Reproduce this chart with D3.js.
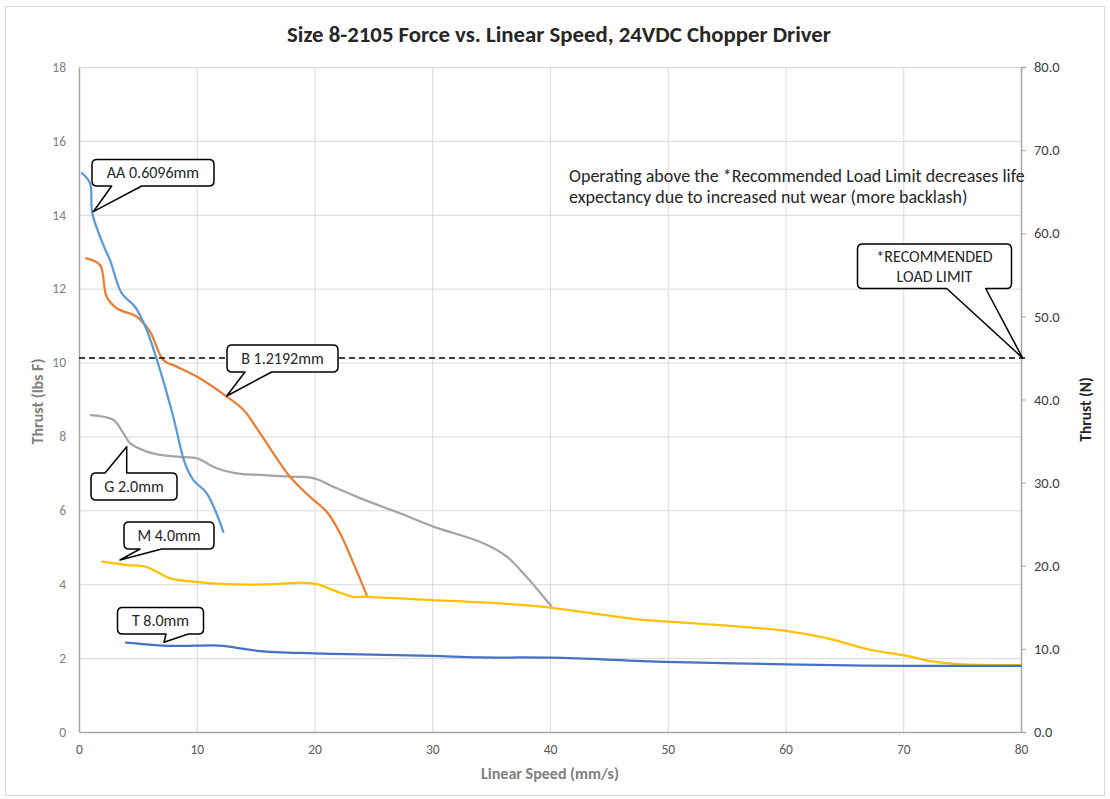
<!DOCTYPE html>
<html>
<head>
<meta charset="utf-8">
<script src="https://cdn.jsdelivr.net/npm/d3@7"></script>
<style>
  html, body { margin: 0; padding: 0; background: #fff; }
  svg { display: block; font-family: Carlito, Lato, "Open Sans", sans-serif; }
</style>
</head>
<body>
<svg id="chart" width="1110" height="799"></svg>
<script>
// ---------- DATA ----------
const xTicks = [0, 10, 20, 30, 40, 50, 60, 70, 80];
const yLeftTicks = [0, 2, 4, 6, 8, 10, 12, 14, 16, 18];
const yRightTicks = [0, 10, 20, 30, 40, 50, 60, 70, 80];

const aaSpeed = [0.25, 0.93, 1.13, 2.07, 2.63, 3.62, 4.76, 5.75, 6.88, 8.0, 9.0, 9.71, 10.85, 12.26];
const aaThrust = [15.13, 14.86, 14.04, 13.18, 12.78, 11.88, 11.51, 10.88, 9.8, 8.54, 7.27, 6.82, 6.46, 5.42];

const bSpeed = [0.6, 1.78, 2.35, 3.2, 4.9, 6.03, 7.16, 8.3, 10.0, 12.54, 13.96, 15.37, 17.92, 19.6, 21.04, 22.17, 23.3, 24.43];
const bThrust = [12.82, 12.64, 11.78, 11.47, 11.24, 10.84, 10.07, 9.89, 9.62, 9.08, 8.72, 8.09, 6.91, 6.37, 5.96, 5.38, 4.57, 3.71];

const gSpeed = [1.0, 2.91, 3.76, 4.33, 5.75, 6.88, 8.58, 10.0, 11.69, 13.39, 15.37, 17.92, 19.9, 21.6, 23.86, 27.26, 30.09, 34.34, 36.32, 38.0, 40.14];
const gThrust = [8.58, 8.45, 8.09, 7.82, 7.59, 7.5, 7.45, 7.41, 7.14, 7.0, 6.96, 6.91, 6.87, 6.64, 6.33, 5.92, 5.56, 5.11, 4.75, 4.2, 3.39];

const mSpeed = [1.98, 4.05, 5.6, 6.6, 7.73, 9.71, 12.54, 16.5, 18.77, 20.19, 21.9, 23.3, 24.43, 30.09, 35.75, 40.14, 44.53, 47.45, 50.08, 56.2, 60.03, 63.5, 67.3, 70.0, 72.3, 74.65, 80.0];
const mThrust = [4.61, 4.52, 4.48, 4.34, 4.16, 4.07, 4.0, 4.0, 4.04, 4.0, 3.8, 3.66, 3.66, 3.57, 3.48, 3.36, 3.17, 3.05, 2.99, 2.85, 2.74, 2.54, 2.22, 2.08, 1.92, 1.84, 1.81];

const tSpeed = [3.99, 5.75, 8.0, 11.97, 13.39, 15.37, 19.9, 23.86, 30.0, 34.0, 40.14, 49.8, 60.0, 70.0, 80.0];
const tThrust = [2.42, 2.37, 2.33, 2.34, 2.28, 2.19, 2.13, 2.10, 2.06, 2.02, 2.01, 1.90, 1.83, 1.79, 1.79];

const limitSpeed = [0, 80.6];
const limitNewton = [45, 45];

const seriesNames = ["AA 0.6096mm", "B 1.2192mm", "G 2.0mm", "M 4.0mm", "T 8.0mm"];
const seriesColors = ["#5B9BD5", "#ED7D31", "#A5A5A5", "#FFC000", "#4472C4"];

const titleText = "Size 8-2105 Force vs. Linear Speed, 24VDC Chopper Driver";
const noteLines = ["Operating above the *Recommended Load Limit decreases life",
                   "expectancy due to increased nut wear (more backlash)"];
const limitLabel = ["*RECOMMENDED", "LOAD LIMIT"];

// ---------- LAYOUT ----------
const svg = d3.select("#chart");
const L = 79, R = 1021, T = 67, B = 732;
const x = d3.scaleLinear().domain([0, 80]).range([L, R]);
const y = d3.scaleLinear().domain([0, 18]).range([B, T]);
const yN = d3.scaleLinear().domain([0, 80]).range([B, T]);

// outer border
svg.append("rect").attr("x", 5.5).attr("y", 6.5).attr("width", 1099).attr("height", 789)
  .attr("fill", "#fff").attr("stroke", "#d9d9d9").attr("stroke-width", 1);

// gridlines
svg.append("g").selectAll("line.h").data(yLeftTicks.filter(d => d > 0)).join("line")
  .attr("x1", L).attr("x2", R).attr("y1", d => y(d) + 0.5).attr("y2", d => y(d) + 0.5)
  .attr("stroke", "#d9d9d9").attr("stroke-width", 1);
svg.append("g").selectAll("line.v").data(xTicks.filter(d => d > 0 && d < 80)).join("line")
  .attr("y1", T).attr("y2", B).attr("x1", d => x(d) + 0.5).attr("x2", d => x(d) + 0.5)
  .attr("stroke", "#d9d9d9").attr("stroke-width", 1);

// axes
const gx = svg.append("g").attr("transform", `translate(0,${B})`)
  .call(d3.axisBottom(x).tickValues(xTicks).tickSize(0).tickPadding(12).tickFormat(d3.format("d")));
const gy = svg.append("g").attr("transform", `translate(${L},0)`)
  .call(d3.axisLeft(y).tickValues(yLeftTicks).tickSize(0).tickPadding(13).tickFormat(d3.format("d")));
const gr = svg.append("g").attr("transform", `translate(${R},0)`)
  .call(d3.axisRight(yN).tickValues(yRightTicks).tickSize(5).tickPadding(8).tickFormat(d3.format(".1f")));

[gx, gy, gr].forEach(g => {
  g.select(".domain").attr("stroke", "#a6a6a6").attr("stroke-width", 1.5);
  g.selectAll(".tick line").attr("stroke", "#a6a6a6");
  g.selectAll(".tick text").attr("font-family", "Carlito, Lato, sans-serif");
});
gx.selectAll(".tick text").attr("font-size", 13.5).attr("fill", "#595959");
gy.selectAll(".tick text").attr("font-size", 13.5).attr("fill", "#808080");
gr.selectAll(".tick text").attr("font-size", 14.5).attr("fill", "#404040");

// axis titles
svg.append("text").attr("x", (L + R) / 2).attr("y", 779).attr("text-anchor", "middle")
  .attr("font-size", 16).attr("font-weight", "bold").attr("fill", "#808080")
  .text("Linear Speed (mm/s)");
svg.append("text").attr("transform", `translate(43,${(T + B) / 2 + 2}) rotate(-90)`)
  .attr("text-anchor", "middle").attr("font-size", 16).attr("font-weight", "bold")
  .attr("fill", "#808080").text("Thrust (lbs F)");
svg.append("text").attr("transform", `translate(1091,${(T + B) / 2 + 10}) rotate(-90)`)
  .attr("text-anchor", "middle").attr("font-size", 15.5).attr("font-weight", "bold")
  .attr("fill", "#262626").text("Thrust (N)");

// title
svg.append("text").attr("x", 559).attr("y", 42).attr("text-anchor", "middle")
  .attr("font-size", 22.8).attr("font-weight", "bold").attr("fill", "#262626").text(titleText);

// series lines
const allSeries = [
  [aaSpeed, aaThrust], [bSpeed, bThrust], [gSpeed, gThrust], [mSpeed, mThrust], [tSpeed, tThrust]
];
const line = d3.line().x(d => x(d[0])).y(d => y(d[1])).curve(d3.curveCatmullRom.alpha(0.5));
const order = [2, 1, 0, 3, 4];
order.forEach(i => {
  const [xs, ys] = allSeries[i];
  const pts = xs.map((v, k) => [v, ys[k]]);
  svg.append("path").attr("d", line(pts)).attr("fill", "none")
    .attr("stroke", seriesColors[i]).attr("stroke-width", 2.25)
    .attr("stroke-linecap", "round").attr("stroke-linejoin", "round");
});

// recommended load limit dashed line
const limLine = d3.line().x(d => x(d[0])).y(d => yN(d[1]));
svg.append("path").attr("d", limLine(limitSpeed.map((v, k) => [v, limitNewton[k]])))
  .attr("fill", "none").attr("stroke", "#000").attr("stroke-width", 1.5)
  .attr("stroke-dasharray", "6,4");

// callouts
function callout(bx, by, bw, bh, base1, base2, tip, lines, fs, lineGap, side) {
  const r = 5;
  const x0 = bx, y0 = by, x1 = bx + bw, y1 = by + bh;
  let p = "";
  if (side === "bottom") {
    p = `M${x0 + r},${y0} L${x1 - r},${y0} Q${x1},${y0} ${x1},${y0 + r} L${x1},${y1 - r} Q${x1},${y1} ${x1 - r},${y1}` +
        ` L${base2},${y1} L${tip[0]},${tip[1]} L${base1},${y1}` +
        ` L${x0 + r},${y1} Q${x0},${y1} ${x0},${y1 - r} L${x0},${y0 + r} Q${x0},${y0} ${x0 + r},${y0} Z`;
  } else {
    p = `M${x0 + r},${y0} L${base1},${y0} L${tip[0]},${tip[1]} L${base2},${y0} L${x1 - r},${y0} Q${x1},${y0} ${x1},${y0 + r} L${x1},${y1 - r} Q${x1},${y1} ${x1 - r},${y1}` +
        ` L${x0 + r},${y1} Q${x0},${y1} ${x0},${y1 - r} L${x0},${y0 + r} Q${x0},${y0} ${x0 + r},${y0} Z`;
  }
  svg.append("path").attr("d", p).attr("fill", "#fff").attr("stroke", "#000").attr("stroke-width", 1.5)
    .attr("stroke-linejoin", "round");
  const cy = by + bh / 2 - (lines.length - 1) * lineGap / 2;
  lines.forEach((t, k) => {
    svg.append("text").attr("x", bx + bw / 2).attr("y", cy + k * lineGap).attr("dy", "0.35em")
      .attr("text-anchor", "middle").attr("font-size", fs).attr("fill", "#262626").text(t);
  });
}
callout(92, 159.5, 122, 26.5, 111.7, 141.7, [93.3, 211.7], [seriesNames[0]], 16, 0, "bottom");
callout(227, 345, 111, 27, 245, 271.7, [226.7, 396], [seriesNames[1]], 16, 0, "bottom");
callout(91, 473, 86, 27, 105, 126.7, [126.7, 446.7], [seriesNames[2]], 16, 0, "top");
callout(124, 522, 90, 27, 140, 161.7, [120, 560], [seriesNames[3]], 16, 0, "bottom");
callout(117.5, 607.5, 86, 26.5, 166, 188.3, [164, 642.3], [seriesNames[4]], 16, 0, "bottom");
callout(857.5, 244, 154, 44.5, 946.7, 985.7, [x(80) + 1.5, yN(45)], limitLabel, 16, 19.5, "bottom");

// note
noteLines.forEach((t, k) => {
  svg.append("text").attr("x", 569).attr("y", 182 + k * 20.5).attr("font-size", 18)
    .attr("fill", "#262626").text(t);
});
</script>
</body>
</html>
